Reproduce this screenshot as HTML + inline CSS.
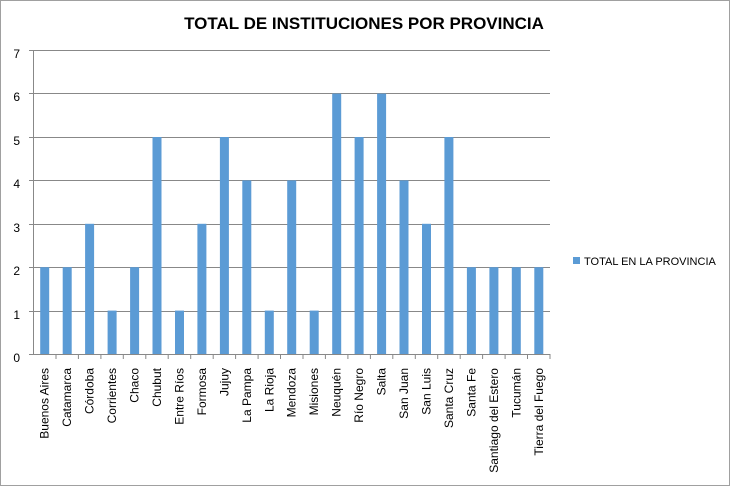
<!DOCTYPE html><html><head><style>body{margin:0;background:#fff}</style></head><body>
<svg width="731" height="490" xmlns="http://www.w3.org/2000/svg" font-family="Liberation Sans, sans-serif">
<rect x="0.5" y="0.5" width="729" height="485" fill="#fff" stroke="#a0a0a0"/>
<text x="364" y="29" text-anchor="middle" font-size="17" font-weight="bold">TOTAL DE INSTITUCIONES POR PROVINCIA</text>
<g stroke="#888" stroke-width="1">
<line x1="29" x2="550" y1="50.5" y2="50.5"/><line x1="29" x2="550" y1="93.5" y2="93.5"/><line x1="29" x2="550" y1="137.5" y2="137.5"/><line x1="29" x2="550" y1="180.5" y2="180.5"/><line x1="29" x2="550" y1="224.5" y2="224.5"/><line x1="29" x2="550" y1="267.5" y2="267.5"/><line x1="29" x2="550" y1="311.5" y2="311.5"/><line x1="29" x2="550" y1="354.5" y2="354.5"/>
<line x1="33.5" x2="33.5" y1="50" y2="354"/>
<path d="M56 354v5M78.4 354v5M100.9 354v5M123.3 354v5M145.8 354v5M168.2 354v5M190.7 354v5M213.2 354v5M235.6 354v5M258.1 354v5M280.5 354v5M303 354v5M325.4 354v5M347.9 354v5M370.4 354v5M392.8 354v5M415.3 354v5M437.7 354v5M460.2 354v5M482.6 354v5M505.1 354v5M527.5 354v5M550 354v5"/>
</g>
<g font-size="12" text-anchor="end"><text x="20" y="58">7</text><text x="20" y="101">6</text><text x="20" y="145">5</text><text x="20" y="188">4</text><text x="20" y="232">3</text><text x="20" y="275">2</text><text x="20" y="319">1</text><text x="20" y="362">0</text></g>
<g fill="#5b9bd5">
<rect x="40.2" y="267.2" width="9" height="86.8"/>
<rect x="62.7" y="267.2" width="9" height="86.8"/>
<rect x="85.1" y="223.8" width="9" height="130.2"/>
<rect x="107.6" y="310.6" width="9" height="43.4"/>
<rect x="130.1" y="267.2" width="9" height="86.8"/>
<rect x="152.5" y="137" width="9" height="217"/>
<rect x="175" y="310.6" width="9" height="43.4"/>
<rect x="197.4" y="223.8" width="9" height="130.2"/>
<rect x="219.9" y="137" width="9" height="217"/>
<rect x="242.3" y="180.4" width="9" height="173.6"/>
<rect x="264.8" y="310.6" width="9" height="43.4"/>
<rect x="287.2" y="180.4" width="9" height="173.6"/>
<rect x="309.7" y="310.6" width="9" height="43.4"/>
<rect x="332.2" y="93.6" width="9" height="260.4"/>
<rect x="354.6" y="137" width="9" height="217"/>
<rect x="377.1" y="93.6" width="9" height="260.4"/>
<rect x="399.5" y="180.4" width="9" height="173.6"/>
<rect x="422" y="223.8" width="9" height="130.2"/>
<rect x="444.4" y="137" width="9" height="217"/>
<rect x="466.9" y="267.2" width="9" height="86.8"/>
<rect x="489.4" y="267.2" width="9" height="86.8"/>
<rect x="511.8" y="267.2" width="9" height="86.8"/>
<rect x="534.3" y="267.2" width="9" height="86.8"/>
</g>
<g font-size="12" text-anchor="end">
<text transform="translate(48.7,368) rotate(-90)">Buenos Aires</text>
<text transform="translate(71.2,368) rotate(-90)">Catamarca</text>
<text transform="translate(93.6,368) rotate(-90)">Córdoba</text>
<text transform="translate(116.1,368) rotate(-90)">Corrientes</text>
<text transform="translate(138.6,368) rotate(-90)">Chaco</text>
<text transform="translate(161,368) rotate(-90)">Chubut</text>
<text transform="translate(183.5,368) rotate(-90)">Entre Ríos</text>
<text transform="translate(205.9,368) rotate(-90)">Formosa</text>
<text transform="translate(228.4,368) rotate(-90)">Jujuy</text>
<text transform="translate(250.8,368) rotate(-90)">La Pampa</text>
<text transform="translate(273.3,368) rotate(-90)">La Rioja</text>
<text transform="translate(295.7,368) rotate(-90)">Mendoza</text>
<text transform="translate(318.2,368) rotate(-90)">Misiones</text>
<text transform="translate(340.7,368) rotate(-90)">Neuquén</text>
<text transform="translate(363.1,368) rotate(-90)">Río Negro</text>
<text transform="translate(385.6,368) rotate(-90)">Salta</text>
<text transform="translate(408,368) rotate(-90)">San Juan</text>
<text transform="translate(430.5,368) rotate(-90)">San Luis</text>
<text transform="translate(452.9,368) rotate(-90)">Santa Cruz</text>
<text transform="translate(475.4,368) rotate(-90)">Santa Fe</text>
<text transform="translate(497.9,368) rotate(-90)">Santiago del Estero</text>
<text transform="translate(520.3,368) rotate(-90)">Tucumán</text>
<text transform="translate(542.8,368) rotate(-90)">Tierra del Fuego</text>
</g>
<rect x="573" y="257" width="7" height="7" fill="#5b9bd5"/>
<text x="584" y="265" font-size="11">TOTAL EN LA PROVINCIA</text>
</svg></body></html>
